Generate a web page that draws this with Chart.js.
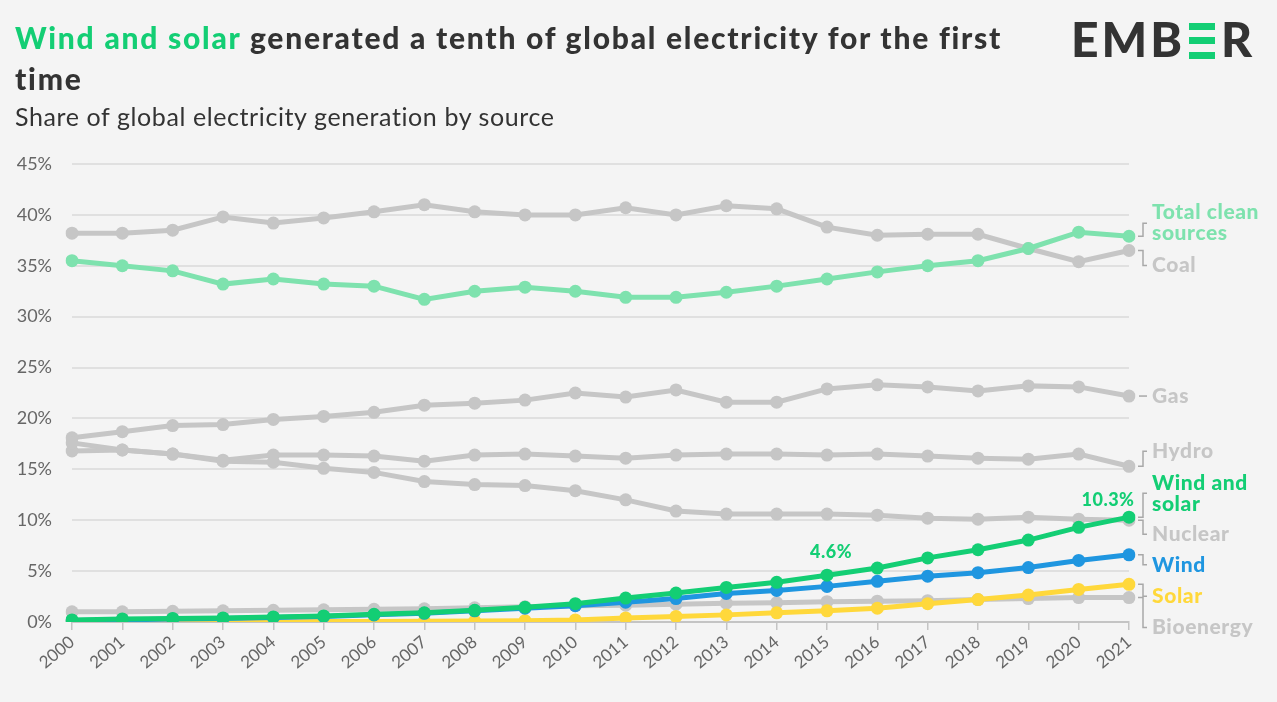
<!DOCTYPE html>
<html>
<head>
<meta charset="utf-8">
<script src="https://cdn.jsdelivr.net/npm/chart.js@4"></script>
<style>
  body { margin: 0; background: #f4f4f4; width: 1277px; height: 702px; overflow: hidden; position: relative; font-family: Lato, "Noto Sans", sans-serif; }
  #grafico { position: absolute; left: 0; top: 0; }
  .titulo { position: absolute; left: 15px; top: 17px; font-size: 30px; line-height: 41px; font-weight: 900; letter-spacing: 1.75px; color: #333; }
  .titulo span { color: #13ce74; }
  .subtitulo { position: absolute; left: 15px; top: 101px; font-size: 25px; line-height: 30px; letter-spacing: 0.6px; color: #333; }
  .logo { position: absolute; left: 1071px; top: 14px; font-size: 48px; line-height: 50px; font-weight: 900; color: #333; letter-spacing: 3px; }
  .logo i { display: inline-block; position: relative; width: 26px; height: 36px; margin: 0 6px 0 4px; vertical-align: -2px; }
  .logo i b { position: absolute; left: 0; width: 26px; height: 7px; background: #13ce74; }
</style>
</head>
<body>
<canvas id="grafico" width="1277" height="702"></canvas>
<div class="titulo"><span>Wind and solar</span> generated a tenth of global electricity for the first<br>time</div>
<div class="subtitulo">Share of global electricity generation by source</div>
<div class="logo">EMB<i><b style="top:0"></b><b style="top:14px"></b><b style="top:29px"></b></i>R</div>
<script>
// Datos (% de la generación eléctrica mundial)
const years = ['2000','2001','2002','2003','2004','2005','2006','2007','2008','2009','2010',
               '2011','2012','2013','2014','2015','2016','2017','2018','2019','2020','2021'];
const coal       = [38.2,38.2,38.5,39.8,39.2,39.7,40.3,41.0,40.3,40.0,40.0,40.7,40.0,40.9,40.6,38.8,38.0,38.1,38.1,36.7,35.4,36.5];
const totalClean = [35.5,35.0,34.5,33.2,33.7,33.2,33.0,31.7,32.5,32.9,32.5,31.9,31.9,32.4,33.0,33.7,34.4,35.0,35.5,36.7,38.3,37.9];
const gas        = [18.1,18.7,19.3,19.4,19.9,20.2,20.6,21.3,21.5,21.8,22.5,22.1,22.8,21.6,21.6,22.9,23.3,23.1,22.7,23.2,23.1,22.2];
const hydro      = [16.8,16.9,16.5,15.9,16.4,16.4,16.3,15.8,16.4,16.5,16.3,16.1,16.4,16.5,16.5,16.4,16.5,16.3,16.1,16.0,16.5,15.3];
const nuclear    = [17.6,16.9,16.5,15.8,15.7,15.1,14.7,13.8,13.5,13.4,12.9,12.0,10.9,10.6,10.6,10.6,10.5,10.2,10.1,10.3,10.1,10.0];
const windSolar  = [0.2,0.3,0.35,0.4,0.5,0.6,0.75,0.9,1.15,1.45,1.8,2.35,2.85,3.4,3.9,4.6,5.3,6.3,7.1,8.05,9.3,10.3];
const wind       = [0.15,0.2,0.3,0.35,0.45,0.55,0.7,0.85,1.1,1.35,1.6,1.95,2.3,2.8,3.1,3.5,4.0,4.5,4.85,5.35,6.05,6.6];
const solar      = [0.0,0.01,0.02,0.02,0.03,0.04,0.05,0.07,0.1,0.13,0.2,0.4,0.55,0.7,0.9,1.1,1.35,1.8,2.2,2.65,3.2,3.7];
const bioenergy  = [1.0,1.0,1.05,1.1,1.15,1.2,1.25,1.3,1.4,1.5,1.6,1.65,1.75,1.85,1.9,2.0,2.05,2.1,2.2,2.3,2.4,2.4];
const yTicks = [0, 5, 10, 15, 20, 25, 30, 35, 40, 45];

const GRIS = '#c6c6c6';
const VERDE = '#13ce74';
const VERDE_CLARO = '#7ee2ae';
const AZUL = '#1f96e0';
const AMARILLO = '#ffd83b';

// Etiquetas a la derecha: desplazamiento en px respecto al último punto
const etiquetas = [
    { serie: 'Total clean sources', lineas: ['Total clean', 'sources'], color: VERDE_CLARO, dy: -24, conector: -13 },
    { serie: 'Coal', lineas: ['Coal'], color: GRIS, dy: 15, conector: 15 },
    { serie: 'Gas', lineas: ['Gas'], color: GRIS, dy: 0, conector: 0 },
    { serie: 'Hydro', lineas: ['Hydro'], color: GRIS, dy: -15, conector: -15 },
    { serie: 'Wind and solar', lineas: ['Wind and', 'solar'], color: VERDE, dy: -34, conector: -24 },
    { serie: 'Nuclear', lineas: ['Nuclear'], color: GRIS, dy: 14, conector: 14 },
    { serie: 'Wind', lineas: ['Wind'], color: AZUL, dy: 10, conector: 10 },
    { serie: 'Solar', lineas: ['Solar'], color: AMARILLO, dy: 12, conector: 12 },
    { serie: 'Bioenergy', lineas: ['Bioenergy'], color: GRIS, dy: 30, conector: 30 }
];

function serie(label, data, color, orden) {
    return {
        label: label,
        data: data,
        borderColor: color,
        backgroundColor: color,
        pointBackgroundColor: color,
        pointBorderWidth: 0,
        pointRadius: 6.5,
        borderWidth: 5,
        tension: 0,
        order: orden
    };
}

const pluginEtiquetas = {
    id: 'etiquetas',
    afterDatasetsDraw(chart) {
        const ctx = chart.ctx;
        const x0 = chart.chartArea.right;
        ctx.save();
        ctx.font = '900 21px Lato, "Noto Sans", sans-serif';
        ctx.letterSpacing = '0.6px';
        ctx.textBaseline = 'middle';
        ctx.textAlign = 'left';
        etiquetas.forEach(e => {
            const idx = chart.data.datasets.findIndex(d => d.label === e.serie);
            const meta = chart.getDatasetMeta(idx);
            const p = meta.data[meta.data.length - 1];
            const y = p.y;
            // conector
            ctx.strokeStyle = '#a8a8a8';
            ctx.lineWidth = 1.5;
            ctx.beginPath();
            if (e.conector === 0) {
                ctx.moveTo(x0 + 10, y);
                ctx.lineTo(x0 + 18, y);
            } else {
                ctx.moveTo(x0 + 9, y);
                ctx.lineTo(x0 + 14, y);
                ctx.lineTo(x0 + 14, y + e.conector);
                ctx.lineTo(x0 + 18, y + e.conector);
            }
            ctx.stroke();
            ctx.fillStyle = e.color;
            e.lineas.forEach((t, i) => ctx.fillText(t, x0 + 23, y + e.dy + i * 21));
        });
        // anotaciones de eólica + solar
        const ms = chart.getDatasetMeta(chart.data.datasets.findIndex(d => d.label === 'Wind and solar'));
        ctx.font = '900 18px Lato, "Noto Sans", sans-serif';
        ctx.letterSpacing = '0.5px';
        ctx.fillStyle = VERDE;
        ctx.textAlign = 'center';
        const p15 = ms.data[15];
        ctx.fillText(windSolar[15].toFixed(1) + '%', p15.x + 4, p15.y - 23);
        const p21 = ms.data[21];
        ctx.fillText(windSolar[21].toFixed(1) + '%', p21.x - 21, p21.y - 17);
        ctx.restore();
    }
};

function inicializarGrafico(canvasId) {
    const data = {
        labels: years,
        datasets: [
            serie('Wind and solar', windSolar, VERDE, 0),
            serie('Wind', wind, AZUL, 1),
            serie('Solar', solar, AMARILLO, 2),
            serie('Total clean sources', totalClean, VERDE_CLARO, 3),
            serie('Bioenergy', bioenergy, GRIS, 4),
            serie('Nuclear', nuclear, GRIS, 5),
            serie('Hydro', hydro, GRIS, 6),
            serie('Gas', gas, GRIS, 7),
            serie('Coal', coal, GRIS, 8)
        ]
    };
    const config = {
        type: 'line',
        data: data,
        options: {
            responsive: false,
            animation: false,
            layout: { padding: { top: 164, right: 148, left: 0, bottom: 0 } },
            plugins: { legend: { display: false }, tooltip: { enabled: false } },
            scales: {
                x: {
                    offset: false,
                    grid: { drawOnChartArea: false, drawTicks: true, tickLength: 8, color: '#c4c4c4', lineWidth: 1.5 },
                    border: { display: true, color: '#c4c4c4', width: 2 },
                    ticks: { color: '#666', font: { family: 'Lato', size: 17 }, minRotation: 40, maxRotation: 40, padding: 2, autoSkip: false },
                    afterFit(scale) { scale.height = 80; }
                },
                y: {
                    min: 0,
                    max: 45,
                    afterBuildTicks(scale) { scale.ticks = yTicks.map(v => ({ value: v })); },
                    grid: { color: '#e0e0e0', lineWidth: 2, drawTicks: false },
                    border: { display: false },
                    ticks: { color: '#666', font: { family: 'Lato', size: 18 }, padding: 20, callback: v => v + '%' },
                    afterFit(scale) { scale.width = 72; }
                }
            }
        },
        plugins: [pluginEtiquetas]
    };
    const canvas = document.getElementById(canvasId);
    if (canvas) {
        new Chart(canvas, config);
    } else {
        console.error('No se encontró el canvas:', canvasId);
    }
}

inicializarGrafico('grafico');
</script>
</body>
</html>
